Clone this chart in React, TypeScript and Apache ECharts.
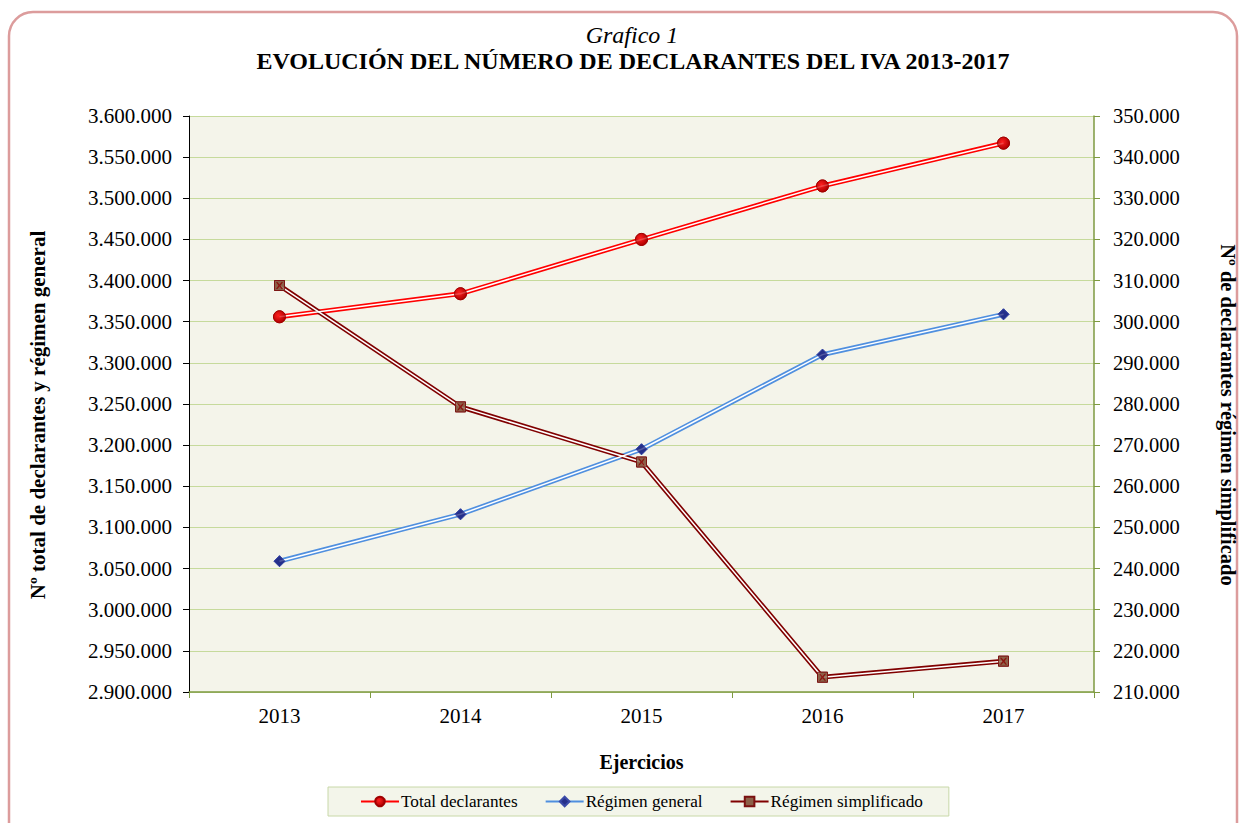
import React, { useEffect, useRef } from "react";
import * as echarts from "echarts";

const years = ["2013", "2014", "2015", "2016", "2017"];
const totalDeclarantes = [3356000, 3384000, 3450000, 3515000, 3567000];
const regimenGeneral = [3059000, 3116000, 3195000, 3310000, 3359000];
const regimenSimplificado = [308800, 279300, 265900, 213600, 217500];

const titleTop = "Grafico 1";
const titleMain = "EVOLUCIÓN DEL NÚMERO DE DECLARANTES DEL IVA 2013-2017";
const leftAxisName = "Nº total de declarantes y régimen general";
const rightAxisName = "Nº de declarantes régimen simplificado";
const xAxisName = "Ejercicios";
const seriesNames = ["Total declarantes", "Régimen general", "Régimen simplificado"];

const FONT = "'Liberation Serif', 'Times New Roman', serif";
const fmt = (v: number) => String(v).replace(/\B(?=(\d{3})+(?!\d))/g, ".");

function lineTriple(
  name: string,
  data: number[],
  color: string,
  yAxisIndex: number,
  symbol: string,
  symbolSize: number,
  symColor: any,
  symBorder: string
): any[] {
  return [
    {
      name,
      type: "line",
      yAxisIndex,
      data,
      z: 2,
      symbol,
      symbolSize,
      showSymbol: true,
      itemStyle: { color: symColor, borderColor: symBorder, borderWidth: 1 },
      lineStyle: { color, width: 4.8 },
    },
    {
      name,
      type: "line",
      yAxisIndex,
      data,
      z: 3,
      showSymbol: false,
      symbol: "none",
      lineStyle: { color: "#ffffff", width: 1.5 },
      itemStyle: { color },
    },
    {
      name,
      type: "scatter",
      yAxisIndex,
      data,
      z: 4,
      symbol,
      symbolSize,
      itemStyle: { color: symColor, borderColor: symBorder, borderWidth: 1 },
    },
  ];
}

export default function App() {
  const ref = useRef<HTMLDivElement>(null);
  useEffect(() => {
    if (!ref.current) return;
    const chart = echarts.init(ref.current, null, { renderer: "svg" });
    const series: any[] = [
      ...lineTriple(seriesNames[0], totalDeclarantes, "#FF0000", 0, "circle", 12,
        { type: "radial", x: 0.4, y: 0.4, r: 0.6, colorStops: [{ offset: 0, color: "#FF2020" }, { offset: 1, color: "#B00000" }] },
        "#A00000"),
      ...lineTriple(seriesNames[1], regimenGeneral, "#4F8FDF", 0, "diamond", 11, "#26308A", "#3A4AA8"),
      ...lineTriple(seriesNames[2], regimenSimplificado, "#800000", 1, "rect", 10, "#8C6048", "#7A1010"),
      {
        name: seriesNames[2],
        type: "scatter",
        yAxisIndex: 1,
        data: regimenSimplificado,
        z: 5,
        symbol: "path://M0,0L2,0L5,3.5L8,0L10,0L6.5,5L10,10L8,10L5,6.5L2,10L0,10L3.5,5Z",
        symbolSize: 7,
        itemStyle: { color: "#8B0000" },
      },
    ];
    chart.setOption({
      animation: false,
      textStyle: { fontFamily: FONT },
      graphic: [
        {
          type: "rect",
          shape: { x: 9, y: 12, width: 1228, height: 860, r: 24 },
          style: { fill: "none", stroke: "#DC9C9C", lineWidth: 2.5 },
          z: -1,
        },
        {
          type: "text",
          x: 632,
          y: 35,
          style: { text: titleTop, font: `italic 24px ${FONT}`, fill: "#000", align: "center", verticalAlign: "middle" },
        },
        {
          type: "text",
          x: 633,
          y: 61,
          style: { text: titleMain, font: `bold 24px ${FONT}`, fill: "#000", align: "center", verticalAlign: "middle" },
        },
        {
          type: "text",
          x: 38,
          y: 415,
          rotation: Math.PI / 2,
          style: { text: leftAxisName, font: `bold 21px ${FONT}`, fill: "#000", align: "center", verticalAlign: "middle" },
        },
        {
          type: "text",
          x: 1228,
          y: 415,
          rotation: -Math.PI / 2,
          style: { text: rightAxisName, font: `bold 20.5px ${FONT}`, fill: "#000", align: "center", verticalAlign: "middle" },
        },
      ],
      grid: {
        left: 189,
        right: 148,
        top: 116,
        bottom: 131,
        show: true,
        backgroundColor: "#F4F4EA",
        borderWidth: 0,
        outerBoundsMode: "none",
        containLabel: false,
      },
      legend: {
        data: seriesNames,
        left: 328,
        top: 787,
        backgroundColor: "#F3F5EA",
        borderColor: "#C8D8A8",
        borderWidth: 1,
        borderRadius: 0,
        padding: [6, 26, 6, 32],
        itemWidth: 38,
        itemHeight: 12,
        itemGap: 27,
        textStyle: { fontFamily: FONT, fontSize: 17.2, color: "#000", padding: [0, 0, 0, -3] },
      },
      xAxis: {
        type: "category",
        data: years,
        boundaryGap: true,
        name: xAxisName,
        nameLocation: "middle",
        nameGap: 60,
        nameTextStyle: { fontFamily: FONT, fontSize: 20, fontWeight: "bold", color: "#000" },
        axisLine: { lineStyle: { color: "#7E9A40", width: 1.5 } },
        axisTick: { show: true, length: 6, lineStyle: { color: "#7E9A40" } },
        axisLabel: { fontFamily: FONT, fontSize: 21, color: "#000", margin: 13 },
      },
      yAxis: [
        {
          type: "value",
          min: 2900000,
          max: 3600000,
          interval: 50000,
          axisLine: { show: true, lineStyle: { color: "#000", width: 1 } },
          axisTick: { show: true, length: 6, lineStyle: { color: "#000" } },
          axisLabel: { fontFamily: FONT, fontSize: 21, color: "#000", margin: 17, formatter: fmt },
          splitLine: { show: true, lineStyle: { color: "#C6DA9C", width: 1.2 } },
        },
        {
          type: "value",
          position: "right",
          min: 210000,
          max: 350000,
          interval: 10000,
          axisLine: { show: true, lineStyle: { color: "#7E9A40", width: 1.5 } },
          axisTick: { show: true, length: 6, lineStyle: { color: "#7E9A40" } },
          axisLabel: { fontFamily: FONT, fontSize: 20.5, color: "#000", margin: 19, formatter: fmt },
          splitLine: { show: false },
        },
      ],
      series,
    });
    return () => chart.dispose();
  }, []);
  return (
    <div
      ref={ref}
      style={{ position: "fixed", left: 0, top: 0, width: 1242, height: 823, background: "#fff" }}
    />
  );
}
